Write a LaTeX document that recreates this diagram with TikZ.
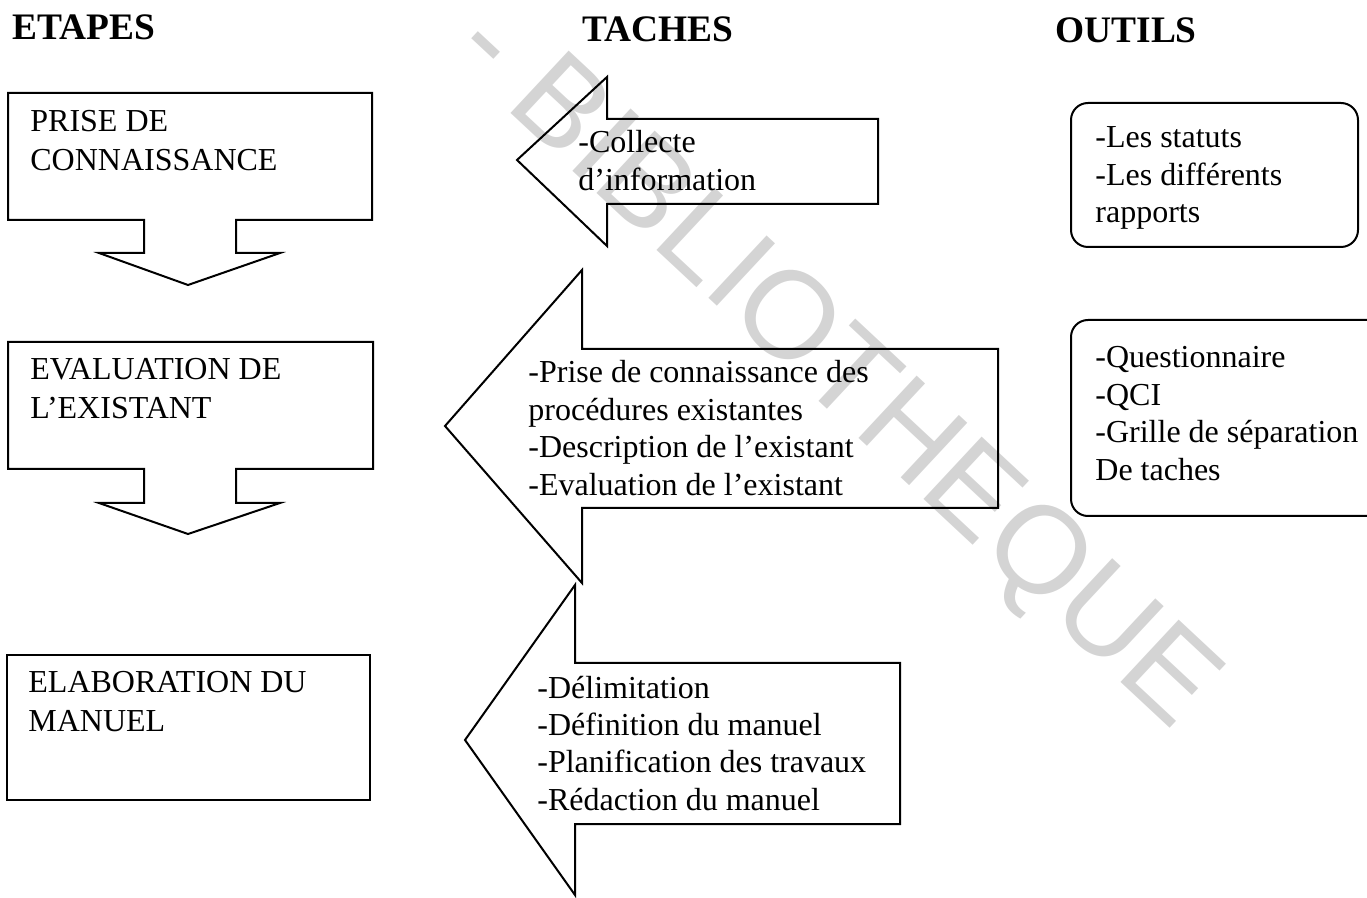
\documentclass[tikz,border=0pt]{standalone}
\usepackage{fontspec}
\setmainfont{Liberation Serif}
\newfontfamily\wmfont{Liberation Sans}
\definecolor{wmgray}{gray}{0.83}
% one label block: lines stacked, baseline on the first line
\newcommand\stacklines[1]{\begin{tabular}[t]{@{}l@{}}#1\end{tabular}}
\renewcommand\arraystretch{1}
\begin{document}
\begin{tikzpicture}[x=0.5pt,y=-0.5pt,
  outline/.style={draw=black, line width=1pt, line join=miter},
  toolbox/.style={outline, rounded corners=8.5pt},
  colhead/.style={anchor=base west, inner sep=0pt, font=\bfseries\fontsize{18.7}{20}\selectfont},
  steptxt/.style={anchor=base west, inner sep=0pt, font=\fontsize{16}{19.5}\selectfont},
  tasktxt/.style={anchor=base west, inner sep=0pt, font=\fontsize{16}{18.7}\selectfont},
  wmark/.style={anchor=base west, inner sep=0pt, text=wmgray, font=\wmfont\fontsize{62}{70}\selectfont, rotate=-43},
]
\useasboundingbox (0,0) rectangle (1367,898);
\clip (0,0) rectangle (1367,898);

% watermark
\node[wmark] (wm) at (448,55) {- BIBLIOTHEQUE};

% column headings
\node[colhead] (hEtapes) at (12,40) {ETAPES};
\node[colhead] (hTaches) at (582,42) {TACHES};
\node[colhead] (hOutils) at (1055,43) {OUTILS};

% steps: boxes with a downward arrow
\draw[outline] (8,93) -- (372,93) -- (372,220) -- (236,220) -- (236,253) -- (280,253)
  -- (188,285) -- (99,253) -- (144,253) -- (144,220) -- (8,220) -- cycle;
\draw[outline] (8,342) -- (373,342) -- (373,469) -- (236,469) -- (236,503) -- (280,503)
  -- (188,534) -- (99,503) -- (144,503) -- (144,469) -- (8,469) -- cycle;
\draw[outline] (7,655) rectangle (370,800);

\node[steptxt] (e1) at (30,132) {\stacklines{PRISE DE\\CONNAISSANCE}};
\node[steptxt] (e2) at (30,380) {\stacklines{EVALUATION DE\\L’EXISTANT}};
\node[steptxt] (e3) at (28,693) {\stacklines{ELABORATION DU\\MANUEL}};

% tasks: left-pointing block arrows
\draw[outline] (517,160) -- (607,77) -- (607,119) -- (878,119) -- (878,204)
  -- (607,204) -- (607,246) -- cycle;
\draw[outline] (445,426) -- (582,270) -- (582,349) -- (998,349) -- (998,508)
  -- (582,508) -- (582,583) -- cycle;
\draw[outline] (465,740) -- (575,585) -- (575,663) -- (900,663) -- (900,824)
  -- (575,824) -- (575,895) -- cycle;

\node[tasktxt] (t1) at (578,153) {\stacklines{-Collecte\\d’information}};
\node[tasktxt] (t2) at (528,383) {\stacklines{-Prise de connaissance des\\procédures existantes\\-Description de l’existant\\-Evaluation de l’existant}};
\node[tasktxt] (t3) at (537,698) {\stacklines{-Délimitation\\-Définition du manuel\\-Planification des travaux\\-Rédaction du manuel}};

% tools: rounded boxes
\draw[toolbox] (1071,103) rectangle (1358,247);
\draw[toolbox] (1071,320) rectangle (1420,516);

\node[tasktxt] (o1) at (1095,148) {\stacklines{-Les statuts\\-Les différents\\rapports}};
\node[tasktxt] (o2) at (1095,368) {\stacklines{-Questionnaire\\-QCI\\-Grille de séparation\\De taches}};
\end{tikzpicture}
\end{document}
